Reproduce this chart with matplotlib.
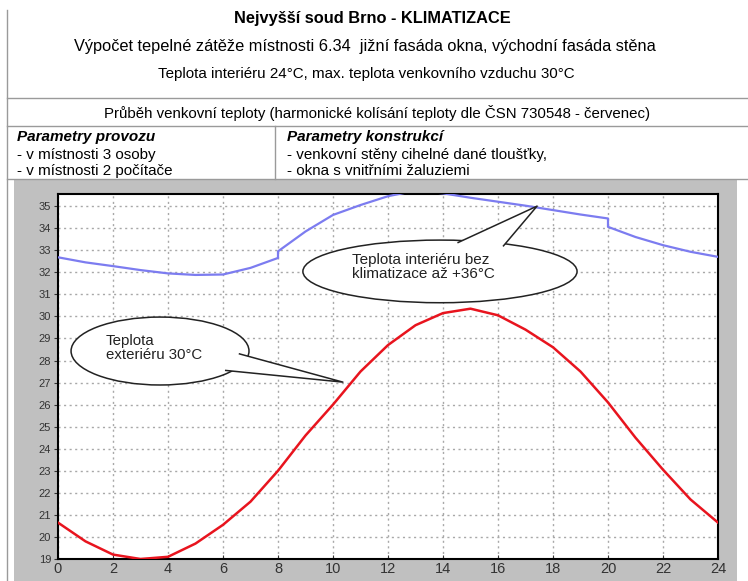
import matplotlib.pyplot as plt
from matplotlib.patches import Ellipse, Polygon, Rectangle

# hodiny a teploty
hodiny_ext = list(range(0, 25))
teplota_ext = [20.65, 19.8, 19.2, 19.0, 19.1, 19.7, 20.55, 21.6, 23.0, 24.6,
               26.0, 27.5, 28.7, 29.6, 30.15, 30.35, 30.05, 29.4, 28.6, 27.5,
               26.1, 24.5, 23.05, 21.7, 20.65]

hodiny_int = [0, 1, 2, 3, 4, 5, 6, 7, 8, 8, 9, 10, 11, 12, 13, 14, 15, 16,
              17, 18, 19, 20, 20, 21, 22, 23, 24]
teplota_int = [32.68, 32.45, 32.28, 32.1, 31.95, 31.88, 31.9, 32.2, 32.65, 32.95,
               33.85, 34.6, 35.05, 35.45, 35.7, 35.58, 35.38, 35.2, 35.02, 34.82,
               34.62, 34.44, 34.06, 33.6, 33.23, 32.93, 32.7]

x_ticks = list(range(0, 25, 2))
y_ticks = list(range(19, 36))

W, H = 748, 581
fig = plt.figure(figsize=(W / 100, H / 100), dpi=100)
plt.rcParams['font.family'] = ['Liberation Sans', 'DejaVu Sans']


def fx(px):
    return px / W


def fy(py):
    return 1 - py / H


# hlavicka
fig.text(fx(372), fy(18), 'Nejvyšší soud Brno - KLIMATIZACE', ha='center', va='center',
         fontsize=11.8, fontweight='bold')
fig.text(fx(365), fy(47), 'Výpočet tepelné zátěže místnosti 6.34  jižní fasáda okna, východní fasáda stěna',
         ha='center', va='center', fontsize=11.8)
fig.text(fx(366), fy(74), 'Teplota interiéru 24°C, max. teplota venkovního vzduchu 30°C',
         ha='center', va='center', fontsize=10.9)
fig.text(fx(377), fy(113), 'Průběh venkovní teploty (harmonické kolísání teploty dle ČSN 730548 - červenec)',
         ha='center', va='center', fontsize=10.8)
fig.text(fx(17), fy(137), 'Parametry provozu', ha='left', va='center', fontsize=11,
         fontweight='bold', style='italic')
fig.text(fx(17), fy(155), '- v místnosti 3 osoby', ha='left', va='center', fontsize=10.9)
fig.text(fx(17), fy(171), '- v místnosti 2 počítače', ha='left', va='center', fontsize=10.9)
fig.text(fx(287), fy(137), 'Parametry konstrukcí', ha='left', va='center', fontsize=11,
         fontweight='bold', style='italic')
fig.text(fx(287), fy(155), '- venkovní stěny cihelné dané tloušťky,', ha='left', va='center', fontsize=10.9)
fig.text(fx(287), fy(171), '- okna s vnitřními žaluziemi', ha='left', va='center', fontsize=10.9)

# cary tabulky
car = '#9a9a9a'
fig.add_artist(plt.Line2D([fx(7), fx(7)], [fy(10), fy(581)], color=car, lw=1))
for yy in (98, 126, 179):
    fig.add_artist(plt.Line2D([fx(7), fx(748)], [fy(yy), fy(yy)], color=car, lw=1))
fig.add_artist(plt.Line2D([fx(275), fx(275)], [fy(126), fy(179)], color=car, lw=1))

# sede pozadi grafu
fig.add_artist(Rectangle((fx(14), fy(581)), fx(737 - 14), (581 - 179) / H,
                         facecolor='#c0c0c0', edgecolor='none', zorder=0))

ax = fig.add_axes([fx(58), fy(559), fx(718 - 58), (559 - 194) / H])
ax.set_facecolor('white')
ax.plot(hodiny_int, teplota_int, color='#7c7cf0', lw=1.6, zorder=3)
ax.plot(hodiny_ext, teplota_ext, color='#e8141e', lw=1.8, zorder=3)

ax.set_xlim(0, 24)
ax.set_ylim(19, 35.55)
ax.set_xticks(x_ticks)
ax.set_yticks(y_ticks)
ax.grid(True, color='#a8a8a8', linestyle=(0, (1.5, 2.5)), lw=1)
ax.tick_params(axis='x', labelsize=10.5, colors='#333333', length=3, pad=2, direction='in')
ax.tick_params(axis='y', labelsize=8, colors='#333333', length=3, pad=2, direction='out')
for s in ax.spines.values():
    s.set_color('black')
    s.set_linewidth(1.5)


def bublina(cx, cy, w, h, b1, b2, tip):
    ax.add_patch(Ellipse((cx, cy), w, h, facecolor='white', edgecolor='#222222', lw=1.1, zorder=5))
    ax.add_patch(Polygon([b1, tip, b2], closed=True, facecolor='white', edgecolor='none', zorder=6))
    ax.plot([b1[0], tip[0], b2[0]], [b1[1], tip[1], b2[1]], color='#222222', lw=1.1, zorder=7)


# bublina interier
bublina(13.89, 32.04, 9.97, 2.84, (14.55, 33.35), (16.2, 33.2), (17.42, 35.0))
ax.text(10.69, 32.25, 'Teplota interiéru bez\nklimatizace až +36°C', ha='left', va='center',
        fontsize=11, color='#222222', zorder=8, linespacing=1.0)

# bublina exterier
bublina(3.71, 28.43, 6.47, 3.08, (6.6, 28.3), (6.1, 27.55), (10.36, 27.02))
ax.text(1.75, 28.55, 'Teplota\nexteriéru 30°C', ha='left', va='center',
        fontsize=10.8, color='#222222', zorder=8, linespacing=1.0)

fig.savefig('out.png', dpi=100)
